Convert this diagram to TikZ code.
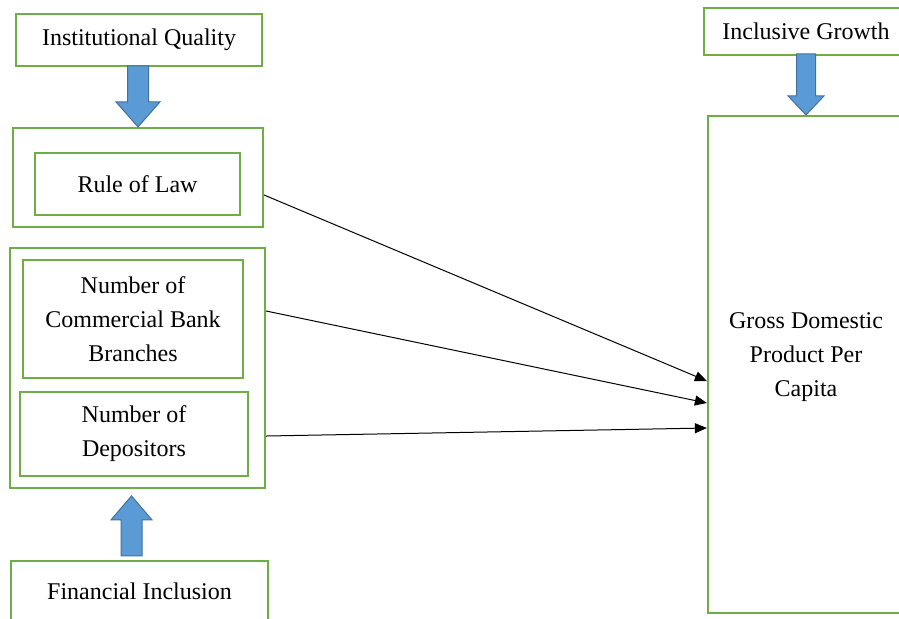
\documentclass[tikz,border=0pt]{standalone}
\usepackage{fontspec}
\setmainfont{Liberation Serif}
\usetikzlibrary{arrows.meta}

\definecolor{boxgreen}{RGB}{112,173,71}
\definecolor{arrowblue}{RGB}{91,155,213}
\definecolor{arrowedge}{RGB}{65,113,156}

\begin{document}
\begin{tikzpicture}[
			x=0.5pt, y=-0.5pt,
			every node/.style={
				font=\fontsize{12}{17}\selectfont,
				align=center,
				inner sep=0pt
			},
			box/.style={draw=boxgreen, line width=1.1pt, fill=white, rectangle},
			fatarrow/.style={draw=arrowedge, fill=arrowblue, line width=0.5pt, line join=miter}, % block arrows
			arrow/.style={-{Triangle[length=6pt, width=5pt]}, line width=0.5pt, color=black}
			]
			\useasboundingbox (0,0) rectangle (899,618);
			
			% -------- Institutional quality --------
			\node[box, minimum width=123pt, minimum height=26pt] (iq) at (139,40) {Institutional Quality};
			\node[box, minimum width=125pt, minimum height=49.5pt] (rolbox) at (138,177.5) {};
			\node[box, minimum width=102.5pt, minimum height=31pt] (rol) at (137.5,184) {Rule of Law};
			
			\draw[fatarrow] (rolbox.north) +(0,0) -- +(-22,-25) -- +(-10.5,-25) -- +(-10.5,-61) -- +(10.5,-61) -- +(10.5,-25) -- +(22,-25) -- cycle;
			
			% -------- Financial inclusion --------
			\node[box, minimum width=127.5pt, minimum height=120pt] (fibox) at (137.5,368) {};
			\node[box, minimum width=110pt, minimum height=59pt] (cbb) at (133,319) {Number of\\Commercial Bank\\Branches};
			\node[box, minimum width=114pt, minimum height=42pt] (dep) at (134,434) {Number of\\Depositors};
			\node[box, minimum width=128.5pt, minimum height=30.5pt] (fi) at (139.5,591.5) {Financial Inclusion};
			
			\draw[fatarrow] ([xshift=-4pt]fi.north) +(-10.5,-4) -- +(-10.5,-40) -- +(-20.5,-40) -- +(0,-64) -- +(20.5,-40) -- +(10.5,-40) -- +(10.5,-4) -- cycle;
			
			% -------- Inclusive growth --------
			\node[box, minimum width=102pt, minimum height=23.5pt] (ig) at (806,31.5) {Inclusive Growth};
			\node[box, minimum width=98pt, minimum height=248.5pt] (gdp) at (806,364.5) {};
			\node (gdptext) at (806,357) {Gross Domestic\\Product Per\\Capita};
			
			\draw[fatarrow] (gdp.north) +(0,0) -- +(-18,-19) -- +(-9.5,-19) -- +(-9.5,-61) -- +(9.5,-61) -- +(9.5,-19) -- +(18,-19) -- cycle;
			
			% -------- Links --------
			\draw[arrow] ([yshift=-8.75pt]rolbox.east) -- ([yshift=-8.25pt]gdp.west);
			\draw[arrow] ([yshift=28.5pt]fibox.east) -- ([yshift=-19.25pt]gdp.west);
			\draw[arrow] ([yshift=-34pt]fibox.east) -- ([yshift=-31.75pt]gdp.west);
			
	\end{tikzpicture}
\end{document}
